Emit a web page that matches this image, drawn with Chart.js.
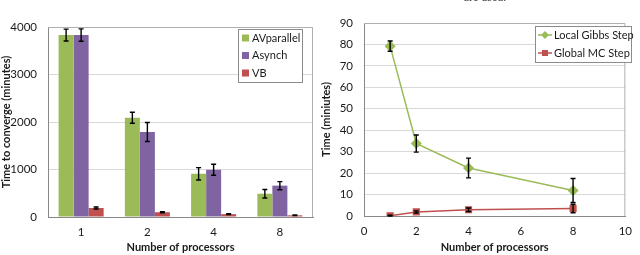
<!DOCTYPE html>
<html>
<head>
<meta charset="utf-8">
<script src="https://cdn.jsdelivr.net/npm/chart.js@4.4.0/dist/chart.umd.min.js"></script>
<style>
  html, body { margin: 0; padding: 0; background: #fff; }
  #wrap { position: relative; width: 640px; height: 255px; overflow: hidden; }
  .box { position: absolute; top: 0; width: 320px; height: 255px; }
  #caption { position: absolute; left: 440px; width: 90px; top: -10px; text-align: center;
             font: 12px "Liberation Serif", serif; color: #444; }
</style>
</head>
<body>
<div id="wrap">
  <div class="box" style="left:0"><canvas id="convChart" width="320" height="255"></canvas></div>
  <div class="box" style="left:320px"><canvas id="stepChart" width="320" height="255"></canvas></div>
  <div id="caption">are used.</div>
</div>
<script>
// left chart: time to converge
const processors = ["1", "2", "4", "8"];
const avparallel = [3830, 2090, 910, 490];
const avparallelErr = [125, 115, 130, 90];
const asynch = [3830, 1790, 995, 660];
const asynchErr = [130, 200, 115, 85];
const vb = [190, 100, 60, 35];
const vbErr = [20, 12, 8, 6];
const convTicks = [0, 1000, 2000, 3000, 4000];

// right chart: time per step
const stepProcs = [1, 2, 4, 8];
const localGibbs = [79.2, 33.8, 22.4, 11.9];
const localGibbsErr = [2.4, 4, 4.6, 5.6];
const globalMC = [0.1, 1.9, 2.9, 3.5];
const globalMCErr = [0.3, 0.5, 0.8, 2];

const green = "#9BBB59";
const purple = "#8064A2";
const red = "#C0504D";
const fontFam = "Lato, 'Open Sans', sans-serif";
const tickFont = { family: fontFam, size: 11.5 };
const titleFont = { family: fontFam, size: 11, weight: "bold" };
const textCol = "#1a1a1a";

// draws black error bars from plugin options
const errorBars = {
  id: "errorBars",
  afterDatasetsDraw(chart, args, opts) {
    const ctx = chart.ctx;
    const yScale = chart.scales.y;
    ctx.save();
    ctx.strokeStyle = "#000";
    ctx.lineWidth = 1.4;
    opts.errors.forEach((errs, di) => {
      const meta = chart.getDatasetMeta(di);
      const vals = chart.data.datasets[di].data;
      meta.data.forEach((el, i) => {
        const v = typeof vals[i] === "object" ? vals[i].y : vals[i];
        const top = yScale.getPixelForValue(v + errs[i]);
        const bot = yScale.getPixelForValue(Math.max(0, v - errs[i]));
        ctx.beginPath();
        ctx.moveTo(el.x, top); ctx.lineTo(el.x, bot);
        ctx.moveTo(el.x - 2.5, top); ctx.lineTo(el.x + 2.5, top);
        ctx.moveTo(el.x - 2.5, bot); ctx.lineTo(el.x + 2.5, bot);
        ctx.stroke();
      });
    });
    ctx.restore();
  }
};

// top and right edges of the plot frame
const plotFrame = {
  id: "plotFrame",
  beforeDatasetsDraw(chart) {
    const { ctx, chartArea: a } = chart;
    ctx.save();
    ctx.strokeStyle = "#b0b0b0";
    ctx.lineWidth = 1;
    ctx.beginPath();
    ctx.moveTo(a.left, a.top + 0.5); ctx.lineTo(a.right - 0.5, a.top + 0.5); ctx.lineTo(a.right - 0.5, a.bottom);
    ctx.stroke();
    ctx.restore();
  }
};

// legend box inside the plot
const boxLegend = {
  id: "boxLegend",
  afterDraw(chart, args, o) {
    const ctx = chart.ctx;
    ctx.save();
    ctx.strokeStyle = "#8c8c8c";
    ctx.lineWidth = 1;
    ctx.fillStyle = "#fff";
    ctx.fillRect(o.x, o.y, o.w, o.h);
    ctx.strokeRect(o.x + 0.5, o.y + 0.5, o.w, o.h);
    ctx.font = "11px " + fontFam;
    ctx.textBaseline = "middle";
    chart.data.datasets.forEach((ds, i) => {
      const cy = o.y + o.first + i * o.gap;
      if (o.kind === "bar") {
        ctx.fillStyle = ds.backgroundColor;
        ctx.fillRect(o.x + 4, cy - 3.5, 7, 7);
        ctx.fillStyle = textCol;
        ctx.fillText(ds.label, o.x + 14, cy);
      } else {
        ctx.strokeStyle = ds.borderColor;
        ctx.lineWidth = 1.5;
        ctx.beginPath(); ctx.moveTo(o.x + 3, cy); ctx.lineTo(o.x + 17, cy); ctx.stroke();
        ctx.fillStyle = ds.borderColor;
        ctx.beginPath();
        if (ds.pointStyle === "rectRot") {
          ctx.moveTo(o.x + 10, cy - 4); ctx.lineTo(o.x + 14, cy); ctx.lineTo(o.x + 10, cy + 4); ctx.lineTo(o.x + 6, cy);
        } else {
          ctx.rect(o.x + 7, cy - 3, 6, 6);
        }
        ctx.fill();
        ctx.fillStyle = textCol;
        ctx.fillText(ds.label, o.x + 19, cy);
      }
    });
    ctx.restore();
  }
};

new Chart(document.getElementById("convChart"), {
  type: "bar",
  data: {
    labels: processors,
    datasets: [
      { label: "AVparallel", data: avparallel, backgroundColor: green },
      { label: "Asynch", data: asynch, backgroundColor: purple },
      { label: "VB", data: vb, backgroundColor: red },
    ],
  },
  options: {
    responsive: false,
    animation: false,
    layout: { padding: { top: 27, right: 7, left: 0, bottom: 0 } },
    datasets: { bar: { barPercentage: 1, categoryPercentage: 0.68 } },
    scales: {
      x: {
        grid: { display: false, drawTicks: false },
        border: { color: "#888" },
        ticks: { font: tickFont, color: textCol, padding: 8 },
        title: { display: true, text: "Number of processors", font: titleFont, color: textCol, padding: { top: 0, bottom: 1 } },
        afterFit(s) { s.height = 38; },
      },
      y: {
        min: 0,
        max: 4000,
        afterBuildTicks(s) { s.ticks = convTicks.map((v) => ({ value: v })); },
        grid: { color: "#d9d9d9", drawTicks: false },
        border: { color: "#888" },
        ticks: { font: tickFont, color: textCol, padding: 11, callback: (v) => String(v) },
        title: { display: true, text: "Time to converge (minutes)", font: titleFont, color: textCol, padding: 0 },
        afterFit(s) { s.width = 48; },
      },
    },
    plugins: {
      legend: { display: false },
      tooltip: { enabled: false },
      errorBars: { errors: [avparallelErr, asynchErr, vbErr] },
      boxLegend: { kind: "bar", x: 238, y: 29, w: 64, h: 53, first: 9, gap: 17.5 },
    },
  },
  plugins: [plotFrame, errorBars, boxLegend],
});

new Chart(document.getElementById("stepChart"), {
  type: "scatter",
  data: {
    datasets: [
      {
        label: "Local Gibbs Step",
        data: stepProcs.map((p, i) => ({ x: p, y: localGibbs[i] })),
        showLine: true, borderColor: green, backgroundColor: green, borderWidth: 1.5,
        pointStyle: "rectRot", pointRadius: 4.5,
      },
      {
        label: "Global MC Step",
        data: stepProcs.map((p, i) => ({ x: p, y: globalMC[i] })),
        showLine: true, borderColor: red, backgroundColor: red, borderWidth: 1.5,
        pointStyle: "rect", pointRadius: 4,
      },
    ],
  },
  options: {
    responsive: false,
    animation: false,
    layout: { padding: { top: 23, right: 6, left: 0, bottom: 0 } },
    scales: {
      x: {
        type: "linear",
        min: 0,
        max: 10,
        grid: { display: false, drawTicks: false },
        border: { color: "#888" },
        ticks: { stepSize: 2, font: tickFont, color: textCol, padding: 8 },
        title: { display: true, text: "Number of processors", font: titleFont, color: textCol, padding: { top: 0, bottom: 1 } },
        afterFit(s) { s.height = 39; },
      },
      y: {
        min: 0,
        max: 90,
        grid: { color: "#d9d9d9", drawTicks: false },
        border: { color: "#888" },
        ticks: { stepSize: 10, font: tickFont, color: textCol, padding: 11 },
        title: { display: true, text: "Time (miniutes)", font: titleFont, color: textCol, padding: 0 },
        afterFit(s) { s.width = 44; },
      },
    },
    plugins: {
      legend: { display: false },
      tooltip: { enabled: false },
      errorBars: { errors: [localGibbsErr, globalMCErr] },
      boxLegend: { kind: "line", x: 215, y: 26, w: 96, h: 36, first: 9, gap: 18 },
    },
  },
  plugins: [plotFrame, errorBars, boxLegend],
});
</script>
</body>
</html>
